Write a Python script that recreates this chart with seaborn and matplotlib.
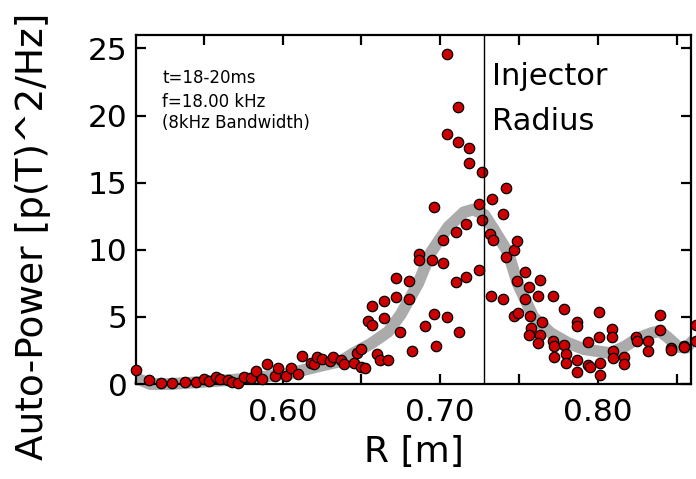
import matplotlib
matplotlib.use("Agg")
import matplotlib.pyplot as plt
import seaborn as sns
import numpy as np
import pandas as pd
from matplotlib.ticker import FixedLocator

# scatter data: radius [m] and auto-power
r_pts = [0.507, 0.515, 0.523, 0.530, 0.538, 0.545, 0.550, 0.553, 0.558, 0.560,
         0.5655, 0.568, 0.5716, 0.5755, 0.580, 0.583, 0.587, 0.590, 0.595, 0.597,
         0.602, 0.605, 0.610, 0.6125, 0.618, 0.620, 0.622, 0.625, 0.630, 0.632,
         0.637, 0.639, 0.645, 0.647, 0.6495, 0.650, 0.652, 0.654, 0.657, 0.657,
         0.660, 0.662, 0.664, 0.664, 0.667, 0.672, 0.672, 0.6745, 0.680, 0.680,
         0.682, 0.6866, 0.6866, 0.690, 0.6946, 0.696, 0.696, 0.697, 0.7018, 0.7018,
         0.704, 0.704, 0.704, 0.7097, 0.7097, 0.7115, 0.7115, 0.712, 0.7166, 0.7166,
         0.7185, 0.7185, 0.7247, 0.7247, 0.7263, 0.7263, 0.7317, 0.7333, 0.7319, 0.733,
         0.7397, 0.7397, 0.7414, 0.7416, 0.747, 0.7486, 0.7486, 0.747, 0.749, 0.7539,
         0.7634, 0.7564, 0.754, 0.762, 0.7714, 0.757, 0.7784, 0.7644, 0.7573, 0.7564,
         0.7634, 0.762, 0.7714, 0.7723, 0.7786, 0.7723, 0.7795, 0.7795, 0.7867, 0.7867,
         0.7867, 0.7867, 0.7935, 0.7935, 0.7947, 0.8006, 0.8006, 0.8015, 0.8015, 0.8089,
         0.8089, 0.8095, 0.8095, 0.8165, 0.8165, 0.8243, 0.8248, 0.8316, 0.8316, 0.8396,
         0.8396, 0.8466, 0.8466, 0.8544, 0.8544, 0.862, 0.862]
p_pts = [1.04, 0.30, 0.10, 0.10, 0.15, 0.15, 0.40, 0.25, 0.50, 0.35,
         0.30, 0.15, 0.07, 0.55, 0.47, 1.00, 0.40, 1.46, 0.57, 1.20,
         0.60, 1.20, 0.75, 2.06, 1.54, 1.50, 2.00, 1.90, 1.75, 2.04,
         1.80, 1.50, 1.60, 2.34, 2.60, 1.30, 1.20, 4.70, 4.40, 5.80,
         2.20, 1.80, 6.20, 4.90, 1.80, 7.90, 6.50, 3.86, 7.70, 6.30,
         2.46, 9.70, 9.25, 4.30, 9.25, 13.20, 5.25, 2.84, 9.00, 10.75,
         5.00, 24.55, 18.65, 11.30, 7.60, 20.60, 18.00, 3.90, 11.90, 7.96,
         17.60, 16.50, 13.40, 8.50, 15.80, 12.24, 11.20, 10.75, 6.57, 13.75,
         12.70, 6.30, 9.45, 14.60, 10.00, 10.65, 7.70, 5.07, 5.27, 8.33,
         7.76, 7.20, 6.34, 6.57, 6.57, 5.07, 5.60, 4.60, 4.15, 3.66,
         3.66, 3.03, 3.20, 2.84, 2.90, 1.99, 2.26, 1.60, 4.60, 4.33,
         1.80, 0.87, 3.10, 1.42, 1.30, 5.35, 3.53, 1.60, 0.67, 4.10,
         3.48, 2.46, 1.97, 2.04, 1.49, 3.48, 3.23, 3.20, 2.49, 5.15,
         4.03, 2.71, 2.54, 2.86, 2.75, 4.40, 3.23]

# smoothed fit curve
r_fit = [0.507, 0.516, 0.529, 0.548, 0.567, 0.586, 0.605, 0.624, 0.637, 0.645,
         0.656, 0.667, 0.675, 0.686, 0.694, 0.705, 0.715, 0.721, 0.728, 0.734,
         0.743, 0.749, 0.759, 0.770, 0.781, 0.791, 0.802, 0.808, 0.8165, 0.825,
         0.834, 0.839, 0.844, 0.851, 0.856, 0.861]
p_fit = [0.45, 0.0, 0.0, 0.15, 0.3, 0.5, 0.8, 1.35, 1.7, 2.3,
         3.0, 3.9, 5.2, 7.5, 9.8, 11.7, 12.8, 13.0, 12.6, 11.5,
         9.8, 7.5, 5.0, 3.8, 3.06, 2.6, 2.4, 2.3, 2.76, 3.4,
         3.8, 3.95, 3.5, 2.76, 2.7, 3.3]

injector_r = 0.728
xticks_major = [0.60, 0.70, 0.80]
xtick_labels = ["0.60", "0.70", "0.80"]
xticks_minor = [0.55, 0.65, 0.75, 0.85]
yticks = [0, 5, 10, 15, 20, 25]
info_lines = ["t=18-20ms", "f=18.00 kHz", "(8kHz Bandwidth)"]

sns.set_style("ticks")
plt.rcParams["font.family"] = ["DejaVu Sans"]
plt.rcParams["text.color"] = "black"
plt.rcParams["axes.labelcolor"] = "black"

fig = plt.figure(figsize=(6.96, 4.79), dpi=100)
ax = fig.add_axes([0.1954, 0.1983, 0.9928 - 0.1954, 0.9269 - 0.1983])

fit_df = pd.DataFrame({"R": r_fit, "P": p_fit})
pts_df = pd.DataFrame({"R": r_pts, "P": p_pts})

sns.lineplot(data=fit_df, x="R", y="P", ax=ax, color="#ababab", linewidth=8.5,
             estimator=None, sort=True, zorder=1, clip_on=False,
             solid_capstyle="butt", solid_joinstyle="round")
sns.scatterplot(data=pts_df, x="R", y="P", ax=ax, color="#cc0000",
                edgecolor="black", linewidth=0.9, s=56, zorder=3, clip_on=False)
ax.axvline(injector_r, color="black", linewidth=1.0, zorder=4)

ax.set_xlim(0.507, 0.859)
ax.set_ylim(0, 26)

ax.xaxis.set_major_locator(FixedLocator(xticks_major))
ax.set_xticklabels(xtick_labels)
ax.xaxis.set_minor_locator(FixedLocator(xticks_minor))
ax.set_yticks(yticks)

for side in ["left", "right", "top", "bottom"]:
    ax.spines[side].set_visible(True)
    ax.spines[side].set_linewidth(1.6)
    ax.spines[side].set_color("black")

ax.tick_params(which="both", direction="in", length=7.5, width=1.6,
               top=True, right=True, colors="black")
ax.tick_params(axis="both", which="major", labelsize=22.5)
ax.tick_params(axis="x", which="major", pad=10)
ax.tick_params(axis="y", which="major", pad=6)

ax.set_xlabel("R [m]", fontsize=26, labelpad=6)
ax.set_ylabel("Auto-Power [p(T)^2/Hz]", fontsize=27)
ax.yaxis.set_label_coords(-0.153, 0.424)

ys = [0.863, 0.793, 0.733]
for line, yy in zip(info_lines, ys):
    ax.text(0.047, yy, line, transform=ax.transAxes, fontsize=12,
            ha="left", va="baseline")
ax.text(0.641, 0.857, "Injector", transform=ax.transAxes, fontsize=22,
        ha="left", va="baseline")
ax.text(0.641, 0.728, "Radius", transform=ax.transAxes, fontsize=22,
        ha="left", va="baseline")

fig.savefig("out.png", dpi=100)
